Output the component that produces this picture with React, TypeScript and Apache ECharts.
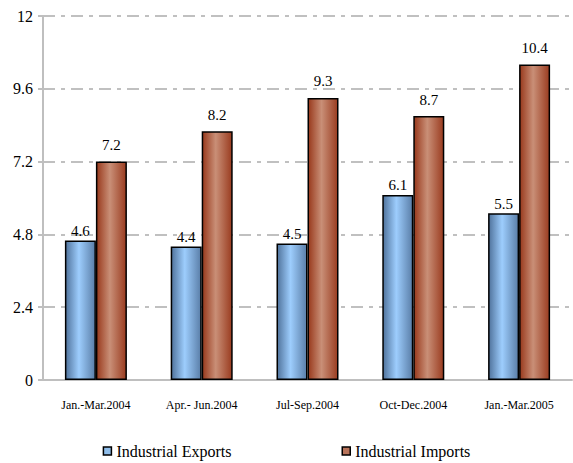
import React, { useEffect, useRef } from "react";
import * as echarts from "echarts";

const categories = ["Jan.-Mar.2004", "Apr.- Jun.2004", "Jul-Sep.2004", "Oct-Dec.2004", "Jan.-Mar.2005"];
const exportsData = [4.6, 4.4, 4.5, 6.1, 5.5];
const importsData = [7.2, 8.2, 9.3, 8.7, 10.4];
const yTicks = [0, 2.4, 4.8, 7.2, 9.6, 12];

const FONT = "Liberation Serif";

export default function App() {
  const ref = useRef<HTMLDivElement>(null);
  useEffect(() => {
    if (!ref.current) return;
    const chart = echarts.init(ref.current, undefined, { renderer: "svg" });
    const blue = new echarts.graphic.LinearGradient(0, 0, 1, 0, [
      { offset: 0, color: "#50739c" },
      { offset: 0.45, color: "#9dcdfd" },
      { offset: 1, color: "#5a7ea8" },
    ]);
    const brown = new echarts.graphic.LinearGradient(0, 0, 1, 0, [
      { offset: 0, color: "#98391c" },
      { offset: 0.45, color: "#c98f77" },
      { offset: 1, color: "#9a3c20" },
    ]);
    chart.setOption({
      animation: false,
      textStyle: { fontFamily: FONT },
      grid: { left: 43, right: 1, top: 16, bottom: 83, containLabel: false },
      legend: {
        top: 438,
        padding: 5,
        left: "center",
        itemGap: 110,
        itemWidth: 8,
        itemHeight: 8,
        icon: "rect",
        textStyle: { fontFamily: FONT, fontSize: 16, color: "#000" },
        data: [
          { name: "Industrial Exports", itemStyle: { color: "#8fbdea", borderColor: "#000", borderWidth: 1.5 } },
          { name: "Industrial Imports", itemStyle: { color: "#b8735a", borderColor: "#000", borderWidth: 1.5 } },
        ],
      },
      xAxis: {
        type: "category",
        data: categories,
        axisLine: { lineStyle: { color: "#bfbfbf", width: 2 } },
        axisTick: { lineStyle: { color: "#bfbfbf", width: 2 }, length: 4 },
        axisLabel: { fontFamily: FONT, fontSize: 12, color: "#000", margin: 19, interval: 0 },
      },
      yAxis: {
        type: "value",
        min: 0,
        max: 12,
        interval: 2.4,
        axisLine: { show: true, lineStyle: { color: "#bfbfbf", width: 2 } },
        axisTick: { show: true, inside: false, length: 5, lineStyle: { color: "#bfbfbf", width: 2 } },
        axisLabel: {
          fontFamily: FONT,
          fontSize: 16,
          color: "#000",
          margin: 10,
          formatter: (v: number) => {
            const t = yTicks.find((x) => Math.abs(x - v) < 1e-6);
            return t === undefined ? "" : String(t);
          },
        },
        splitLine: { show: true, lineStyle: { color: "#c0c0c0", width: 2, type: [12, 6, 4, 6] } },
      },
      series: [
        {
          name: "Industrial Exports",
          type: "bar",
          data: exportsData,
          barWidth: 31,
          barGap: "0%",
          itemStyle: { color: blue, borderColor: "#000", borderWidth: 1.5 },
          label: { show: true, position: "top", distance: 2, fontFamily: FONT, fontSize: 15, color: "#000" },
        },
        {
          name: "Industrial Imports",
          type: "bar",
          data: importsData,
          barWidth: 31,
          barGap: "0%",
          itemStyle: { color: brown, borderColor: "#000", borderWidth: 1.5 },
          label: { show: true, position: "top", distance: 9, fontFamily: FONT, fontSize: 15, color: "#000" },
        },
      ],
    });
    return () => chart.dispose();
  }, []);
  return <div ref={ref} style={{ position: "absolute", left: 0, top: 0, width: 573, height: 463 }} />;
}
